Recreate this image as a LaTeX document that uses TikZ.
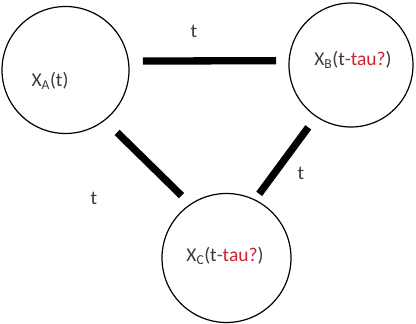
\documentclass[tikz,border=0pt]{standalone}
\usepackage{fontspec}
\setmainfont{Carlito}
\definecolor{txt}{HTML}{3A3A3A}
\definecolor{tred}{HTML}{D0202A}
\begin{document}
\begin{tikzpicture}[x=1pt,y=-1pt,
  stateball/.style={circle,draw=black,line width=1.2pt,minimum size=126pt,inner sep=0pt},
  lbl/.style={text=txt,font=\fontsize{19.5}{22}\selectfont,inner sep=0pt},
  link/.style={line width=7.3pt,draw=black}]
\useasboundingbox (0,0) rectangle (416,324);
\node[stateball,minimum size=127pt] (A) at (65.5,70) {};
\node[stateball,minimum size=124pt] (B) at (351,65) {};
\node[stateball,minimum size=129pt] (C) at (226.5,258) {};
\node[lbl] (tA) at (50,81) {X\textsubscript{A}(t)};
\node[lbl] (tB) at (353,60) {X\textsubscript{B}(t\textcolor{tred}{-tau?})};
\node[lbl] (tC) at (225,256) {X\textsubscript{C}(t\textcolor{tred}{-tau?})};
\node[lbl] (e1) at (194,31) {t};
\node[lbl] (e2) at (94,198) {t};
\node[lbl] (e3) at (301,173) {t};
\draw[link,shorten <=14pt,shorten >=12.5pt] (A.8) -- (B.176);
\draw[link,shorten <=17pt,shorten >=12pt] (A.-52) -- (C.124);
\draw[link,shorten <=7pt,shorten >=13pt] (C.64) -- (B.236);
\end{tikzpicture}
\end{document}
